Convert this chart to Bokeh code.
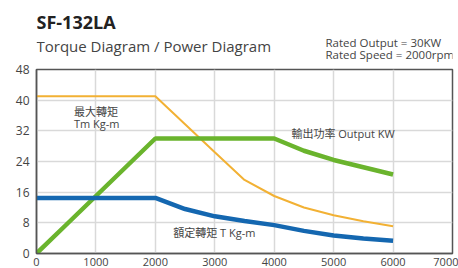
from bokeh.plotting import figure
from bokeh.models import Label, FixedTicker, Range1d
from bokeh.layouts import column
from bokeh.embed import file_html
from bokeh.resources import INLINE

rpm = [0, 500, 1000, 1500, 2000, 2500, 3000, 3500, 4000, 4500, 5000, 5500, 6000]
max_torque = [41, 41, 41, 41, 41, 33.7, 26.4, 19.2, 15.0, 12.0, 10.0, 8.4, 7.1]
rated_torque = [14.5, 14.5, 14.5, 14.5, 14.5, 11.6, 9.7, 8.5, 7.4, 5.9, 4.7, 3.9, 3.3]
output_kw = [0, 7.5, 15, 22.5, 30, 30, 30, 30, 30, 26.8, 24.4, 22.5, 20.6]

x_ticks = [0, 1000, 2000, 3000, 4000, 5000, 6000, 7000]
y_ticks = [0, 8, 16, 24, 32, 40, 48]

title_text = "SF-132LA"
subtitle_text = "Torque Diagram / Power Diagram"
rated_lines = ["Rated Output = 30KW", "Rated Speed = 2000rpm"]

FONT = "'Open Sans', 'Noto Sans CJK TC', sans-serif"
LEFT, RIGHT, W, H = 36, 6, 458, 268

# ---- header (titles); page pixel coordinates, y measured from top ----
HEAD_H = 62
head = figure(width=W, height=HEAD_H, output_backend="svg", toolbar_location=None,
              x_range=Range1d(LEFT, W - RIGHT), y_range=Range1d(HEAD_H, 0),
              min_border_left=LEFT, min_border_right=RIGHT, min_border_top=0, min_border_bottom=0,
              x_axis_type=None, y_axis_type=None)
head.outline_line_color = None
head.grid.visible = False
head.background_fill_color = "white"
head.border_fill_color = "white"

def head_text(x, y, text, size, style="normal", color="#444444"):
    head.add_layout(Label(x=x, y=y, text=text, text_font=FONT,
                          text_font_size=size, text_font_style=style, text_color=color,
                          text_align="left", text_baseline="middle"))

head_text(36, 21.5, title_text, "18px", "bold", "#222222")
head_text(36, 45.5, subtitle_text, "15px")
head_text(325, 42.3, rated_lines[0], "11.5px")
head_text(325, 54.0, rated_lines[1], "11.5px")

# ---- main chart ----
p = figure(width=W, height=H - HEAD_H, output_backend="svg", toolbar_location=None,
           x_range=Range1d(0, 7000), y_range=Range1d(0, 48),
           min_border_left=LEFT, min_border_right=RIGHT, min_border_top=7, min_border_bottom=0)

p.background_fill_color = "white"
p.border_fill_color = "white"
p.outline_line_color = "#555555"
p.outline_line_width = 1.5

for ax in (p.xaxis[0], p.yaxis[0]):
    ax.major_tick_out = 0
    ax.major_tick_in = 0
    ax.minor_tick_out = 0
    ax.minor_tick_in = 0
    ax.axis_line_color = "#555555"
    ax.axis_line_width = 1.5
    ax.major_label_text_font = FONT
    ax.major_label_text_color = "#444444"

p.xaxis.major_label_text_font_size = "11px"
p.yaxis.major_label_text_font_size = "12px"
p.xaxis.ticker = FixedTicker(ticks=x_ticks)
p.yaxis.ticker = FixedTicker(ticks=y_ticks)
p.xaxis.major_label_standoff = 4
p.yaxis.major_label_standoff = 7

p.xgrid.ticker = FixedTicker(ticks=x_ticks)
p.ygrid.ticker = FixedTicker(ticks=y_ticks)
p.grid.grid_line_color = "#d9d9d9"
p.grid.grid_line_width = 1.5

p.line(rpm, max_torque, line_color="#f2b134", line_width=2)
p.line(rpm, output_kw, line_color="#6ab42d", line_width=4.5)
p.line(rpm, rated_torque, line_color="#1467b0", line_width=4.5)

def add_text(x, y, text, size="11px", color="#444444"):
    p.add_layout(Label(x=x, y=y, text=text, text_font=FONT, text_font_size=size,
                       text_color=color, text_align="left", text_baseline="middle"))

add_text(630, 37, "最大轉矩")
add_text(630, 33.8, "Tm Kg-m")
add_text(4290, 31.4, "輸出功率 Output KW")
add_text(2300, 5.6, "額定轉矩 T Kg-m")

layout = column(head, p, spacing=0)
open("out.html", "w").write(file_html(layout, INLINE))
